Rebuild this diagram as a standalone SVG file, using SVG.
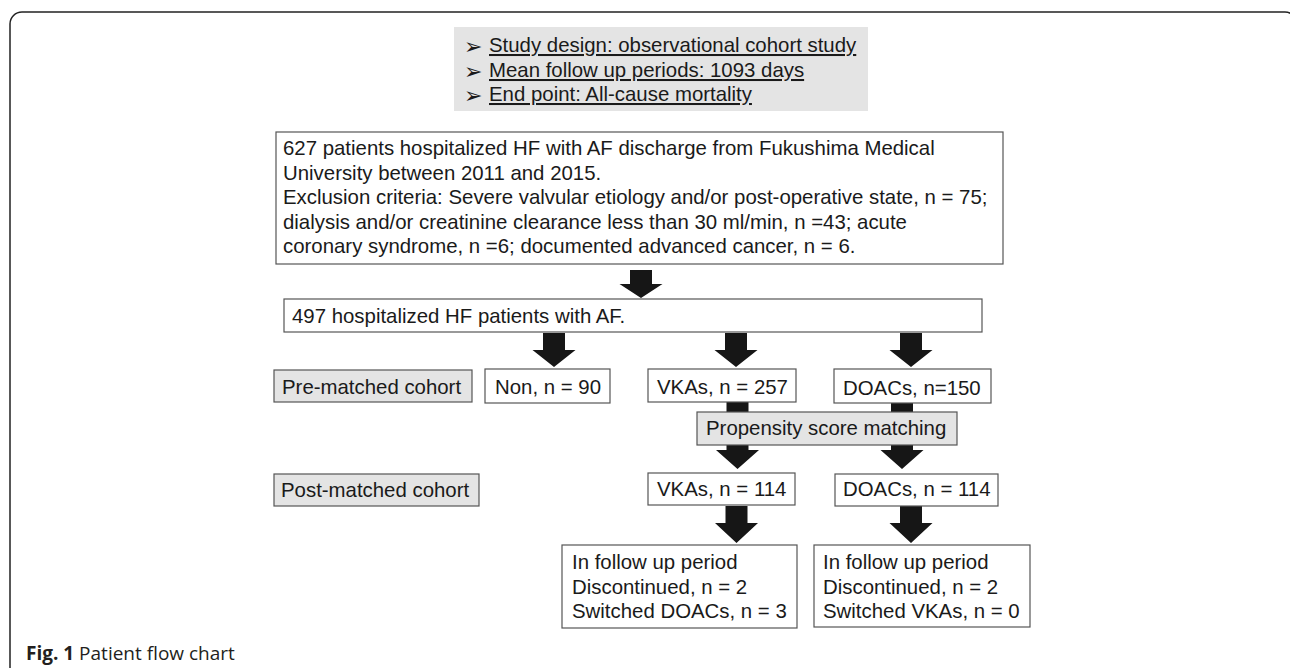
<svg xmlns="http://www.w3.org/2000/svg" width="1290" height="668" viewBox="0 0 1290 668">
<style>
  .t { font-family: "Liberation Sans", Arial, sans-serif; font-size: 20.4px; fill: #1a1a1a; }
  .u { text-decoration: underline; }
  .b { font-family: "DejaVu Sans", sans-serif; font-size: 22px; fill: #1a1a1a; }
  .box { fill: #ffffff; stroke: #555555; stroke-width: 1.2; }
  .gbox { fill: #e4e4e4; stroke: #555555; stroke-width: 1.2; }
  .arr { fill: #161616; }
  .cap { font-family: "Open Sans", "Liberation Sans", sans-serif; font-size: 19px; fill: #231f20; }
</style>
<rect x="0" y="0" width="1290" height="668" fill="#ffffff"/>
<rect x="10" y="12" width="1287" height="700" rx="12" fill="none" stroke="#222222" stroke-width="1.5"/>

<g id="connectors">
  <polygon class="arr" points="630,270 652,270 652,284 662.5,284 641,298 619.5,284 630,284"/>
  <polygon class="arr" points="543,333 565,333 565,350 575.5,350 554,367 532.5,350 543,350"/>
  <polygon class="arr" points="725,333 747,333 747,350 757.5,350 736,367 714.5,350 725,350"/>
  <polygon class="arr" points="900,333 922,333 922,350 932.5,350 911,367 889.5,350 900,350"/>
  <polygon class="arr" points="726.5,402 748.5,402 748.5,450 759,450 737.5,469 716,450 726.5,450"/>
  <polygon class="arr" points="891,403 913,403 913,450 923.5,450 902,469 880.5,450 891,450"/>
  <polygon class="arr" points="725.5,506 747.5,506 747.5,523 758,523 736.5,543 715,523 725.5,523"/>
  <polygon class="arr" points="900,506 922,506 922,523 932.5,523 911,543 889.5,523 900,523"/>
</g>

<g id="study-info">
  <rect x="454" y="27" width="414" height="84" fill="#e4e4e4"/>
  <text class="b" x="464" y="54">➢</text>
  <text class="b" x="464" y="79">➢</text>
  <text class="b" x="464" y="103">➢</text>
  <text class="t u" x="489" y="52">Study design: observational cohort study</text>
  <text class="t u" x="489" y="77">Mean follow up periods: 1093 days</text>
  <text class="t u" x="489" y="101">End point: All-cause mortality</text>
</g>

<g id="n627">
  <rect class="box" x="276" y="132" width="727" height="132"/>
  <text class="t" x="283" y="155">627 patients hospitalized HF with AF discharge from Fukushima Medical</text>
  <text class="t" x="283" y="179.5">University between 2011 and 2015.</text>
  <text class="t" x="283" y="204">Exclusion criteria: Severe valvular etiology and/or post-operative state, n = 75;</text>
  <text class="t" x="283" y="228.5">dialysis and/or creatinine clearance less than 30 ml/min, n =43; acute</text>
  <text class="t" x="283" y="253">coronary syndrome, n =6; documented advanced cancer, n = 6.</text>
</g>

<g id="n497">
  <rect class="box" x="284" y="299" width="698" height="33"/>
  <text class="t" x="292" y="323">497 hospitalized HF patients with AF.</text>
</g>

<g id="pre-matched">
  <rect class="gbox" x="274" y="370" width="198" height="32"/>
  <text class="t" x="282" y="394">Pre-matched cohort</text>
</g>

<g id="non">
  <rect class="box" x="485" y="369" width="125" height="34"/>
  <text class="t" x="495" y="394">Non, n = 90</text>
</g>

<g id="vka257">
  <rect class="box" x="648" y="369" width="148" height="33"/>
  <text class="t" x="657" y="394">VKAs, n = 257</text>
</g>

<g id="doac150">
  <rect class="box" x="834" y="369" width="157" height="34"/>
  <text class="t" x="843" y="395">DOACs, n=150</text>
</g>

<g id="psm">
  <rect class="gbox" x="697" y="412" width="260" height="33"/>
  <text class="t" x="706" y="435">Propensity score matching</text>
</g>

<g id="post-matched">
  <rect class="gbox" x="274" y="474" width="205" height="32"/>
  <text class="t" x="281" y="497">Post-matched cohort</text>
</g>

<g id="vka114">
  <rect class="box" x="648" y="473" width="147" height="32"/>
  <text class="t" x="657" y="496">VKAs, n = 114</text>
</g>

<g id="doac114">
  <rect class="box" x="835" y="474" width="163" height="32"/>
  <text class="t" x="843" y="496">DOACs, n = 114</text>
</g>

<g id="follow-vka">
  <rect class="box" x="562" y="545" width="235" height="83"/>
  <text class="t" x="572" y="569">In follow up period</text>
  <text class="t" x="572" y="594">Discontinued, n = 2</text>
  <text class="t" x="572" y="618">Switched DOACs, n = 3</text>
</g>

<g id="follow-doac">
  <rect class="box" x="814" y="545" width="216" height="82"/>
  <text class="t" x="823" y="569">In follow up period</text>
  <text class="t" x="823" y="594">Discontinued, n = 2</text>
  <text class="t" x="823" y="618">Switched VKAs, n = 0</text>
</g>

<text class="cap" x="26" y="660"><tspan font-weight="bold">Fig. 1</tspan> Patient flow chart</text>
</svg>
